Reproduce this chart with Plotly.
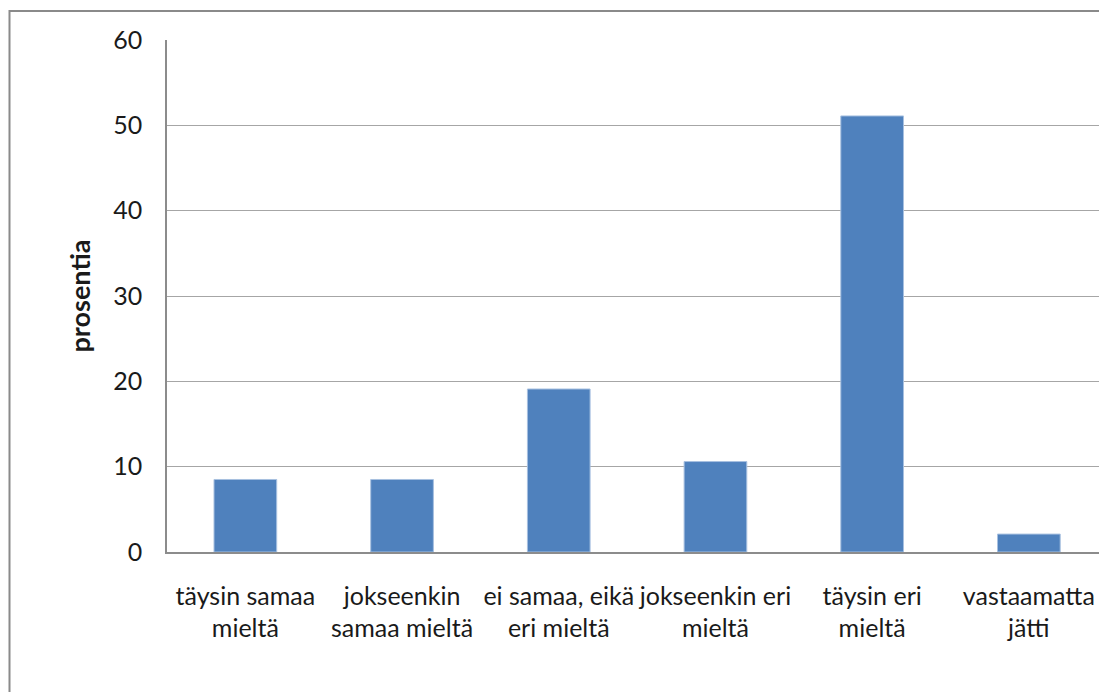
import plotly.graph_objects as go

categories = ["täysin samaa<br>mieltä", "jokseenkin<br>samaa mieltä", "ei samaa, eikä<br>eri mieltä",
              "jokseenkin eri<br>mieltä", "täysin eri<br>mieltä", "vastaamatta<br>jätti"]
values = [8.5, 8.5, 19.1, 10.6, 51.1, 2.1]
y_ticks = [0, 10, 20, 30, 40, 50, 60]
y_title = "prosentia"

W, H = 1099, 692
L, T, B = 167, 40, 140
plot_w = W - L
plot_h = H - T - B
cat_px = 156.7

x_idx = list(range(len(categories)))

fig = go.Figure(go.Bar(
    x=x_idx, y=values, width=0.4,
    marker=dict(color="#4F81BD", line=dict(color="#A7C0E0", width=1)),
))

FONT = "Lato"
fig.update_layout(
    width=W, height=H,
    margin=dict(l=L, r=0, t=T, b=B, pad=0),
    paper_bgcolor="white", plot_bgcolor="white",
    showlegend=False,
    font=dict(family=FONT, size=25, color="#1a1a1a"),
    xaxis=dict(
        range=[-0.5, -0.5 + plot_w / cat_px],
        tickmode="array", tickvals=x_idx, ticktext=categories,
        showgrid=False, showline=True, linecolor="#8c8c8c", linewidth=1.5,
        ticks="", zeroline=False, ticklabelstandoff=21,
        tickfont=dict(size=25),
    ),
    yaxis=dict(
        range=[0, 60], tickmode="array", tickvals=y_ticks,
        showgrid=True, gridcolor="#a6a6a6", gridwidth=1,
        showline=True, linecolor="#8c8c8c", linewidth=1.5,
        ticks="", zeroline=False, ticklabelstandoff=18,
        tickfont=dict(size=25),
        title=dict(text="<b>" + y_title + "</b>", standoff=15, font=dict(size=27)),
    ),
)

# outer chart frame (partially outside the picture)
fx0 = (9.5 - L) / plot_w
fy1 = (H - B - 11) / plot_h
fig.add_shape(type="rect", xref="paper", yref="paper",
              x0=fx0, x1=1.05, y0=-0.5, y1=fy1,
              line=dict(color="#8a8a8a", width=2), layer="below")

fig.write_html("out.html")
